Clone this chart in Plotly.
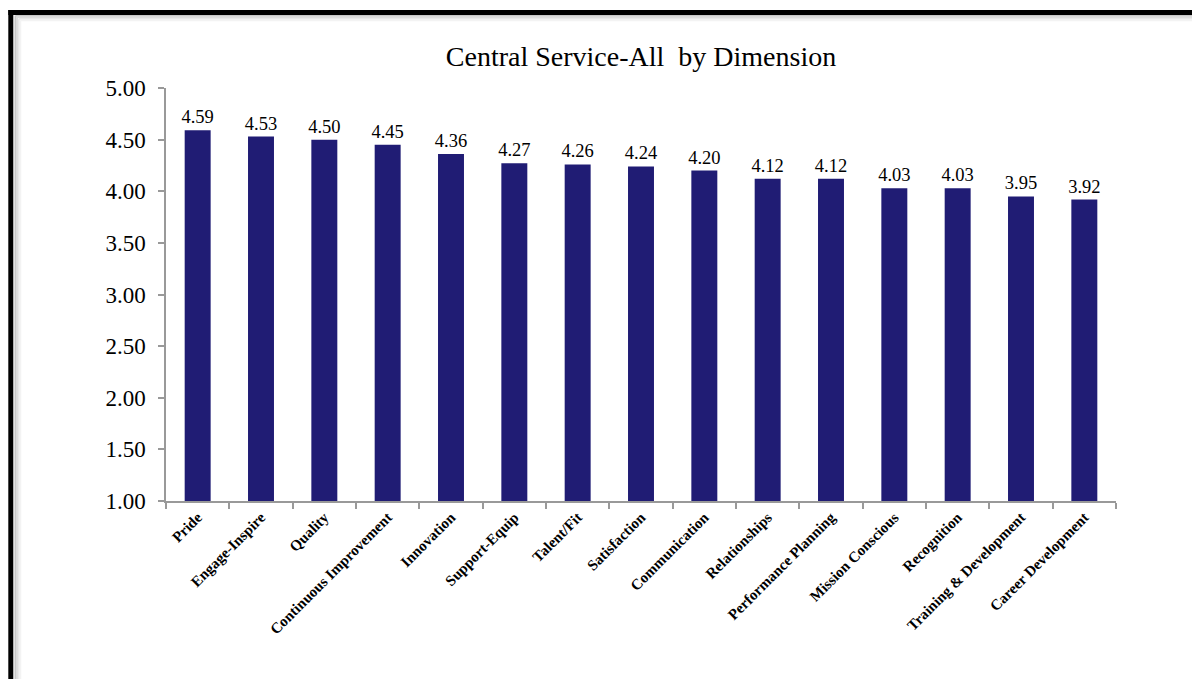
import plotly.graph_objects as go

categories = ["Pride", "Engage-Inspire", "Quality", "Continuous Improvement", "Innovation",
              "Support-Equip", "Talent/Fit", "Satisfaction", "Communication", "Relationships",
              "Performance Planning", "Mission Conscious", "Recognition",
              "Training & Development", "Career Development"]
values = [4.59, 4.53, 4.50, 4.45, 4.36, 4.27, 4.26, 4.24, 4.20, 4.12, 4.12, 4.03, 4.03, 3.95, 3.92]
y_ticks = [1.0, 1.5, 2.0, 2.5, 3.0, 3.5, 4.0, 4.5, 5.0]

OFF = 8  # page body margin
W, H = 1200 - OFF, 679 - OFF
L, R, T, B = 166 - OFF, 1116 - OFF, 88 - OFF, 501 - OFF

def px(x):
    return (x - OFF - L) / (R - L)

def py(y):
    return (B - (y - OFF)) / (B - T)

fig = go.Figure(go.Bar(
    x=categories, y=values, width=0.41,
    marker=dict(color="#201c74", line=dict(width=0)),
    text=[f"{v:.2f}" for v in values], textposition="outside",
    constraintext="none",
    textfont=dict(family="Liberation Serif", size=18.5, color="#000"),
    cliponaxis=False,
))

shapes = []
# soft shadow inside the frame
for i, c in enumerate(["#c8c8c8", "#dadada", "#e8e8e8", "#f3f3f3"]):
    off = 15.5 + i * 1.6
    shapes.append(dict(type="line", xref="paper", yref="paper",
                       x0=px(off), x1=px(1205), y0=py(off), y1=py(off),
                       line=dict(color=c, width=2)))
    shapes.append(dict(type="line", xref="paper", yref="paper",
                       x0=px(off), x1=px(off), y0=py(off), y1=py(690),
                       line=dict(color=c, width=2)))
shapes.append(dict(type="line", xref="paper", yref="paper",
                   x0=px(8.3), x1=px(1205), y0=py(12.5), y1=py(12.5),
                   line=dict(color="#000", width=5)))
shapes.append(dict(type="line", xref="paper", yref="paper",
                   x0=px(10.8), x1=px(10.8), y0=py(10), y1=py(690),
                   line=dict(color="#000", width=5)))

fig.update_layout(
    width=W, height=H,
    margin=dict(l=L, r=W - R, t=T, b=H - B),
    paper_bgcolor="white", plot_bgcolor="white",
    showlegend=False,
    title=dict(text="Central Service-All  by Dimension", x=0.5, xref="paper",
               xanchor="center", y=1 - (56 - OFF) / H, yanchor="middle",
               font=dict(family="Liberation Serif", size=28, color="#000")),
    xaxis=dict(
        type="category", tickangle=-45, tickson="boundaries",
        ticks="outside", ticklen=6, tickcolor="#999", tickwidth=1.5,
        showline=True, linecolor="#999", linewidth=1.5, showgrid=False,
        tickfont=dict(family="Liberation Serif", size=15, color="#000", weight="bold"),
    ),
    yaxis=dict(
        range=[1, 5], tickvals=y_ticks, tickformat=".2f",
        ticks="outside", ticklen=6, tickcolor="#999", tickwidth=1.5,
        ticklabelstandoff=8,
        showline=True, linecolor="#999", linewidth=1.5, showgrid=False, zeroline=False,
        tickfont=dict(family="Liberation Serif", size=23, color="#000"),
    ),
    shapes=shapes,
    bargap=0.59,
)

fig.write_html("out.html")
